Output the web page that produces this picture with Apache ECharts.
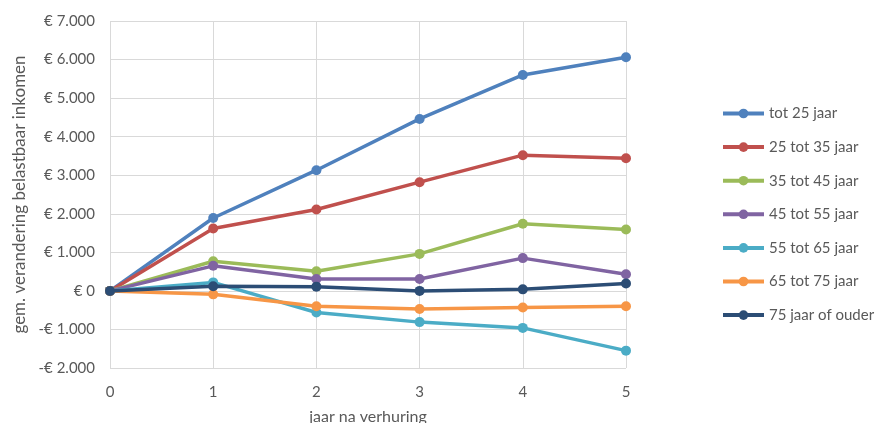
<!DOCTYPE html>
<html><head><meta charset="utf-8">
<script src="https://cdn.jsdelivr.net/npm/echarts@6/dist/echarts.min.js"></script>
<style>html,body{margin:0;padding:0;background:#fff}#c{width:884px;height:423px}</style>
</head><body><div id="c"></div>
<script>
const years = [0, 1, 2, 3, 4, 5];
const seriesNames = ['tot 25 jaar','25 tot 35 jaar','35 tot 45 jaar','45 tot 55 jaar','55 tot 65 jaar','65 tot 75 jaar','75 jaar of ouder'];
const tot25 = [0, 1890, 3130, 4460, 5600, 6060];
const t25_35 = [0, 1620, 2110, 2820, 3520, 3440];
const t35_45 = [0, 770, 510, 960, 1740, 1590];
const t45_55 = [0, 650, 310, 310, 850, 430];
const t55_65 = [0, 220, -560, -810, -960, -1550];
const t65_75 = [0, -90, -400, -470, -430, -400];
const t75plus = [0, 120, 110, 0, 40, 190];
const colors = ['#4F81BD','#C0504D','#9BBB59','#8064A2','#4BACC6','#F79646','#2C4D75'];
const allData = [tot25, t25_35, t35_45, t45_55, t55_65, t65_75, t75plus];

function fmt(v){
  const a = Math.abs(v);
  const s = a >= 1000 ? Math.floor(a/1000) + '.' + String(a%1000).padStart(3,'0') : String(a);
  return (v < 0 ? '-€ ' : '€ ') + s;
}
const font = 'Lato, "Open Sans", sans-serif';
const chart = echarts.init(document.getElementById('c'));
chart.setOption({
  animation: false,
  textStyle: {fontFamily: font},
  grid: {left: 110, right: 258, top: 21, bottom: 55, containLabel: false, outerBoundsMode: 'none'},
  xAxis: {
    type: 'value', min: 0, max: 5, interval: 1,
    name: 'jaar na verhuring', nameLocation: 'middle', nameGap: 41,
    nameTextStyle: {color: '#595959', fontSize: 16, fontFamily: font},
    axisLine: {show: false}, axisTick: {show: false},
    axisLabel: {color: '#595959', fontSize: 15, margin: 17, fontFamily: font},
    splitLine: {show: true, lineStyle: {color: '#D9D9D9', width: 1}}
  },
  yAxis: {
    type: 'value', min: -2000, max: 7000, interval: 1000,
    name: 'gem. verandering belastbaar inkomen', nameLocation: 'middle', nameGap: 81, nameRotate: 90,
    nameTextStyle: {color: '#595959', fontSize: 17, fontFamily: font},
    axisLine: {show: false}, axisTick: {show: false},
    axisLabel: {color: '#595959', fontSize: 15, margin: 15, formatter: fmt, fontFamily: font},
    splitLine: {show: true, lineStyle: {color: '#D9D9D9', width: 1}}
  },
  legend: {
    orient: 'vertical', left: 721, top: 106, padding: 0, itemWidth: 41, itemHeight: 12, itemGap: 18.6,
    textStyle: {color: '#595959', fontSize: 15, fontFamily: font},
    lineStyle: {width: 4},
    data: seriesNames
  },
  series: seriesNames.map((n, i) => ({
    name: n, type: 'line', color: colors[i],
    data: years.map((y, j) => [y, allData[i][j]]),
    symbol: 'circle', symbolSize: 10,
    lineStyle: {width: 3.5, color: colors[i]},
    itemStyle: {color: colors[i]},
    z: 2 + i
  }))
});
</script></body></html>
